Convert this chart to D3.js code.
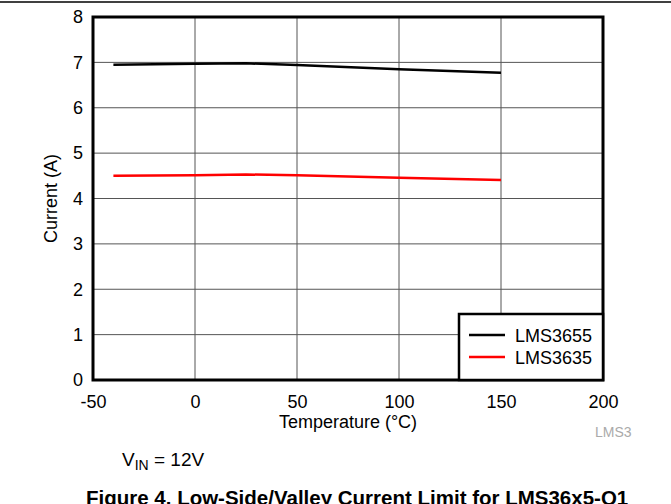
<!DOCTYPE html>
<html><head><meta charset="utf-8">
<script src="https://cdn.jsdelivr.net/npm/d3@7"></script>
<style>body{margin:0;background:#fff}svg{display:block;font-family:Arial,"Liberation Sans",sans-serif}</style>
</head><body><svg id="c" width="671" height="504"></svg>
<script>
const temps = [-40, 0, 25, 50, 100, 150];
const lms3655 = [6.95, 6.97, 6.98, 6.94, 6.85, 6.77];
const lms3635 = [4.50, 4.51, 4.53, 4.51, 4.46, 4.41];
const seriesNames = ["LMS3655", "LMS3635"];
const seriesColors = ["#000000", "#ff0000"];
const xTicks = [-50, 0, 50, 100, 150, 200];
const yTicks = [0, 1, 2, 3, 4, 5, 6, 7, 8];

const svg = d3.select("#c");
const L = 93, R = 603, T = 17, B = 380;
const x = d3.scaleLinear().domain([-50, 200]).range([L, R]);
const y = d3.scaleLinear().domain([0, 8]).range([B, T]);
const FF = "Arial,Liberation Sans,sans-serif";

// top separator line
svg.append("line").attr("x1", 0).attr("x2", 671).attr("y1", 2).attr("y2", 2).attr("stroke", "#000").attr("stroke-width", 1.5);

// grid
svg.append("g").selectAll("line").data(xTicks.slice(1, -1)).join("line")
  .attr("x1", d => x(d)).attr("x2", d => x(d)).attr("y1", T).attr("y2", B)
  .attr("stroke", "#555").attr("stroke-width", 1);
svg.append("g").selectAll("line").data(yTicks.slice(1, -1)).join("line")
  .attr("x1", L).attr("x2", R).attr("y1", d => y(d)).attr("y2", d => y(d))
  .attr("stroke", "#555").attr("stroke-width", 1);

// axes labels via d3 axes
const xAxis = svg.append("g").attr("transform", `translate(0,${B})`)
  .call(d3.axisBottom(x).tickValues(xTicks).tickFormat(d => String(d)).tickSize(0).tickPadding(15));
xAxis.select(".domain").remove();
xAxis.selectAll("text").attr("font-size", 18).attr("fill", "#000").attr("font-family", FF);
const yAxis = svg.append("g").attr("transform", `translate(${L},0)`)
  .call(d3.axisLeft(y).tickValues(yTicks).tickFormat(d => String(d)).tickSize(0).tickPadding(10));
yAxis.select(".domain").remove();
yAxis.selectAll("text").attr("font-size", 18).attr("fill", "#000").attr("font-family", FF);

// lines
const line = d3.line().x((d, i) => x(temps[i])).y(d => y(d));
[lms3655, lms3635].forEach((s, i) => {
  svg.append("path").datum(s).attr("d", line).attr("fill", "none")
    .attr("stroke", seriesColors[i]).attr("stroke-width", 2.5);
});

// frame
svg.append("rect").attr("x", L).attr("y", T).attr("width", R - L).attr("height", B - T)
  .attr("fill", "none").attr("stroke", "#000").attr("stroke-width", 3);

// legend
const lg = svg.append("g");
lg.append("rect").attr("x", 459).attr("y", 314).attr("width", R - 459).attr("height", B - 314)
  .attr("fill", "#fff").attr("stroke", "#000").attr("stroke-width", 2.5);
seriesNames.forEach((n, i) => {
  const yy = 335 + i * 22;
  lg.append("line").attr("x1", 469).attr("x2", 505).attr("y1", yy).attr("y2", yy)
    .attr("stroke", seriesColors[i]).attr("stroke-width", 2.5);
  lg.append("text").attr("x", 515).attr("y", yy + 7).attr("font-size", 18).text(n);
});

// axis titles
svg.append("text").attr("x", x(75)).attr("y", 428).attr("text-anchor", "middle").attr("font-size", 18).text("Temperature (°C)");
svg.append("text").attr("transform", `translate(57,${y(4)}) rotate(-90)`).attr("text-anchor", "middle").attr("font-size", 18).text("Current (A)");

svg.append("text").attr("x", 595).attr("y", 437).attr("font-size", 14).attr("fill", "#aaa").text("LMS3");

const v = svg.append("text").attr("x", 122).attr("y", 466).attr("font-size", 19);
v.append("tspan").text("V");
v.append("tspan").attr("font-size", 14).attr("dy", 4).text("IN");
v.append("tspan").attr("dy", -4).text(" = 12V");

svg.append("text").attr("x", 86).attr("y", 505).attr("font-size", 20.5).attr("font-weight", "bold")
  .text("Figure 4. Low-Side/Valley Current Limit for LMS36x5-Q1");
</script></body></html>
